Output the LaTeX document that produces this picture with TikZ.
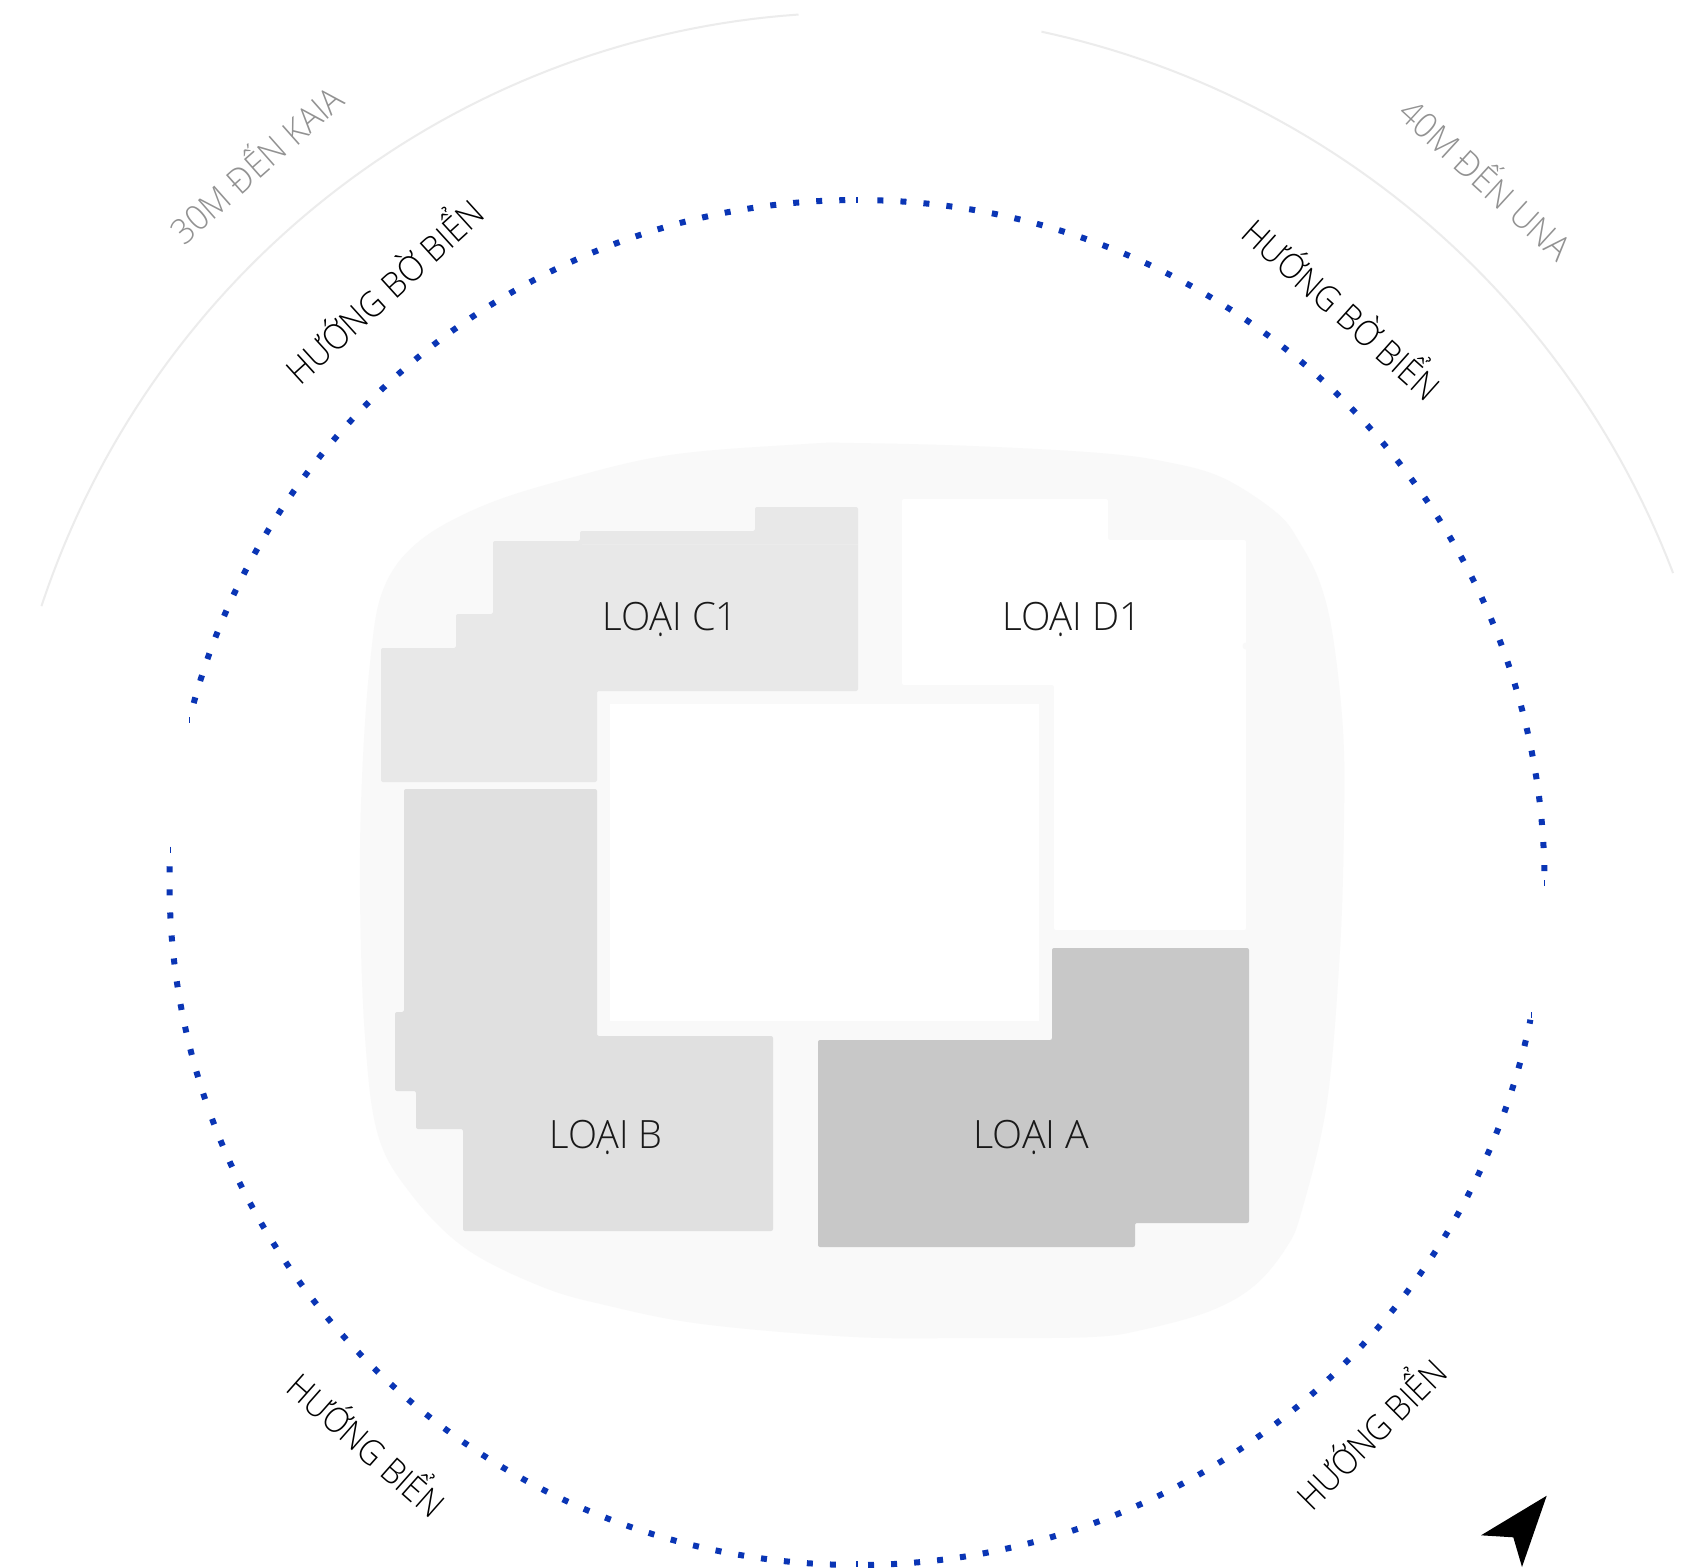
\documentclass[tikz,border=0pt]{standalone}
\usepackage{fontspec}
\usepackage{graphicx}
\newfontfamily\labfont{Open Sans}[UprightFont=* Light]
\definecolor{dotblue}{HTML}{0A35B5}
\definecolor{blobgray}{HTML}{F9F9F9}
\definecolor{arcgray}{HTML}{ECECEC}
\definecolor{typeA}{HTML}{C8C8C8}
\definecolor{typeB}{HTML}{E0E0E0}
\definecolor{typeC}{HTML}{E8E8E8}
\definecolor{seamgray}{HTML}{EBEBEB}
\definecolor{greytext}{HTML}{929292}
\tikzset{
  block/.style={rounded corners=2pt},
  dotarc/.style={draw=dotblue,line width=6pt,dash pattern=on 6pt off 17.07pt},
  ringtick/.style={draw=dotblue,line width=1.1pt},
  farArc/.style={draw=arcgray,line width=2pt},
  labelbase/.style={anchor=base,inner sep=0pt},
  typelabel/.style={labelbase,text=black!90},
  dirlabel/.style={labelbase,text=black},
  distlabel/.style={labelbase,text=greytext},
}
% width, size, text: a label set to the measured width at its natural height
\newcommand{\fitted}[3]{\resizebox{#1pt}{\height}{\labfont\fontsize{#2}{#2}\selectfont #3}}
\begin{document}
\begin{tikzpicture}[x=1pt,y=-1pt]
\useasboundingbox (0,0) rectangle (1695,1567);
\fill[white] (0,0) rectangle (1695,1567);
% outer thin arcs
\draw[farArc] plot[domain=198.5:266.1,samples=200] ({857+860*cos(\x)},{882+869.5*sin(\x)});
\draw[farArc] plot[domain=282.2:339.2,samples=200] ({857+873*cos(\x)},{882+870*sin(\x)});
% site
\fill[blobgray] plot[smooth cycle,tension=0.6] coordinates {
 (805,444) (854,443) (973,446) (1100,453) (1167,462) (1223,478) (1277,513) (1300,543) (1320,583) (1333,637) (1343,730)
 (1344,821) (1340,950) (1327,1102) (1302,1210) (1286,1248) (1254,1286) (1210,1311) (1146,1329) (1092,1337) (973,1338) (854,1337)
 (702,1324) (605,1305) (540,1286) (465,1248) (411,1194) (378,1135) (365,1037) (360,897) (362,778) (370,663) (383,590)
 (417,543) (480,507) (563,480) (670,455)};
\fill[white] (610,704) rectangle (1039,1021);
\fill[white,block] (902,499) -- (1108,499) -- (1108,540) -- (1246,540) -- (1246,930) -- (1054,930) -- (1054,685) -- (902,685) -- cycle;
\fill[blobgray] (1246,646) circle (3.5pt);
% unit blocks
\fill[typeC,block] (381,648) -- (456,648) -- (456,614) -- (493,614) -- (493,541) -- (580,541) -- (580,531) -- (755,531) -- (755,507) -- (858,507) -- (858,691) -- (597,691) -- (597,782) -- (381,782) -- cycle;
\draw[seamgray,line width=0.8pt] (582,544) -- (858,544);
\fill[typeB,block] (404,789) -- (597,789) -- (597,1036) -- (773,1036) -- (773,1231) -- (463,1231) -- (463,1129) -- (416,1129) -- (416,1091) -- (395,1091) -- (395,1012) -- (404,1012) -- cycle;
\fill[typeA,block] (1052,948) -- (1249,948) -- (1249,1223) -- (1135,1223) -- (1135,1247) -- (818,1247) -- (818,1040) -- (1052,1040) -- cycle;
% type labels
\node[typelabel] (c1) at (670,630) {\fitted{135.5}{39}{LOẠI C1}};
\node[typelabel] (d1) at (1072,630) {\fitted{139.5}{39}{LOẠI D1}};
\node[typelabel] (tb) at (606.3,1148) {\fitted{113}{39}{LOẠI B}};
\node[typelabel] (ta) at (1031.5,1148) {\fitted{116}{39}{LOẠI A}};
% dotted ring
\draw[dotarc] plot[domain=-88.3:-0.9,samples=400] ({857+687.5*cos(\x)},{882.5+682.5*sin(\x)});
\draw[dotarc] plot[domain=89.08:11.6,samples=400] ({857+687.5*cos(\x)},{882.5+682.5*sin(\x)});
\draw[dotarc] plot[domain=91.76:160,samples=300] ({857+687.5*cos(\x)},{882.5+682.5*sin(\x)});
\draw[dotarc] plot[domain=181.36:161.2,samples=100] ({857+687.5*cos(\x)},{882.5+682.5*sin(\x)});
\draw[dotarc] plot[domain=269.02:195.2,samples=400] ({857+687.5*cos(\x)},{882.5+682.5*sin(\x)});
% ring end ticks
\draw[ringtick] (857,197) -- (857,203);
\draw[ringtick] (1544.3,880) -- (1544.3,886);
\draw[ringtick] (1531.3,1012) -- (1531.3,1018);
\draw[ringtick] (857,1561) -- (857,1567);
\draw[ringtick] (170.7,846.7) -- (170.7,852.7);
\draw[ringtick] (189.3,717.3) -- (189.3,723.3);
% direction labels
\node[dirlabel,rotate=42.3] (coastL) at (393.7,301.7) {\fitted{252}{35}{HƯỚNG BỜ BIỂN}};
\node[dirlabel,rotate=-41.8] (coastR) at (1332.7,319.6) {\fitted{250}{35}{HƯỚNG BỜ BIỂN}};
\node[dirlabel,rotate=-41.5] (seaL) at (357.4,1455.4) {\fitted{195}{35}{HƯỚNG BIỂN}};
\node[dirlabel,rotate=45] (seaR) at (1381,1443.4) {\fitted{194}{35}{HƯỚNG BIỂN}};
\node[distlabel,rotate=41.5] (kaia) at (265.5,174.5) {\fitted{216}{35}{30M ĐẾN KAIA}};
\node[distlabel,rotate=-42.5] (una) at (1476.7,189.6) {\fitted{218}{35}{40M ĐẾN UNA}};
% north arrow
\fill[black] (1546.7,1495.7) -- (1481,1535.3) -- (1513.3,1537.3) -- (1522,1567) -- cycle;
\end{tikzpicture}
\end{document}
